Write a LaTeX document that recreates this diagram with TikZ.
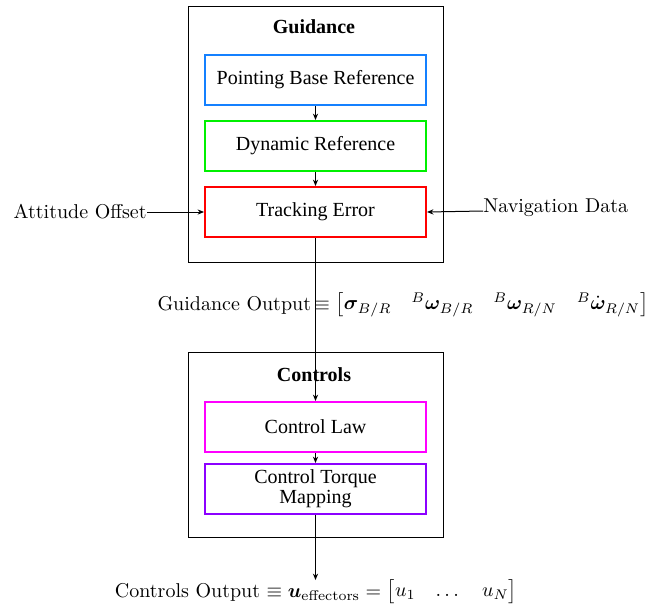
\documentclass[tikz,border=0pt]{standalone}
\usepackage{amsmath,amssymb,bm}
\usepackage{fontspec}
\newfontfamily\tms{Liberation Serif}
\usetikzlibrary{arrows.meta}
\definecolor{pbblue}{RGB}{20,128,255}
\definecolor{drgreen}{RGB}{0,240,0}
\definecolor{tered}{RGB}{255,0,0}
\definecolor{clmag}{RGB}{255,0,255}
\definecolor{ctpurple}{RGB}{140,0,255}
\begin{document}
\begin{tikzpicture}[x=0.5pt,y=-0.5pt,
  outerbox/.style={draw=black,line width=0.45pt,minimum width=127.5pt,inner sep=0pt},
  block/.style={draw,line width=1pt,minimum width=110.5pt,minimum height=25pt,
    inner sep=1pt,align=center,font=\tms},
  title/.style={font=\tms\bfseries},
  flow/.style={-{Stealth[length=3.2pt,width=2.6pt]},line width=0.5pt}]
\useasboundingbox (0,0) rectangle (647,606);

% Guidance section
\node[outerbox,minimum height=128pt] (gbox) at (315.5,134) {};
\node[title] (gtitle) at (314,27) {Guidance};
\node[block,draw=pbblue] (pbr) at (315.5,80) {Pointing Base Reference};
\node[block,draw=drgreen] (dyn) at (315.5,146) {Dynamic Reference};
\node[block,draw=tered] (trk) at (315.5,212) {Tracking Error};

% Controls section
\node[outerbox,minimum height=92.5pt] (cbox) at (315.5,444.5) {};
\node[title] (ctitle) at (314,375) {Controls};
\node[block,draw=clmag] (law) at (315.5,427) {Control Law};
\node[block,draw=ctpurple] (map) at (315.5,489) {Control Torque\\[-2pt]Mapping};

% External inputs
\node[anchor=east,inner sep=0pt] (offset) at (147,212) {Attitude Offset};
\node[anchor=west,inner sep=0pt] (nav) at (483,208) {Navigation Data};

% Output labels
\node[inner sep=0pt] (gout) at (403,305)
  {Guidance Output$\,\equiv\begin{bmatrix}\bm{\sigma}_{B/R} & {}^{B}\bm{\omega}_{B/R} & {}^{B}\bm{\omega}_{R/N} & {}^{B}\dot{\bm{\omega}}_{R/N}\end{bmatrix}$};
\coordinate (cend) at (315.5,580);
\node[inner sep=0pt] (cout) at (316,592)
  {Controls Output $\equiv \bm{u}_{\text{effectors}} = \begin{bmatrix} u_1 & \dots & u_N\end{bmatrix}$};

% Connectors
\draw[flow] (pbr) -- (dyn);
\draw[flow] (dyn) -- (trk);
\draw[flow] (offset.east) -- (trk.west);
\draw[flow] (nav.west |- 0,211) -- (trk.east);
\draw[flow] (trk) -- (law);
\draw[flow] (law) -- (map);
\draw[flow] (map) -- (cend);
\end{tikzpicture}
\end{document}
